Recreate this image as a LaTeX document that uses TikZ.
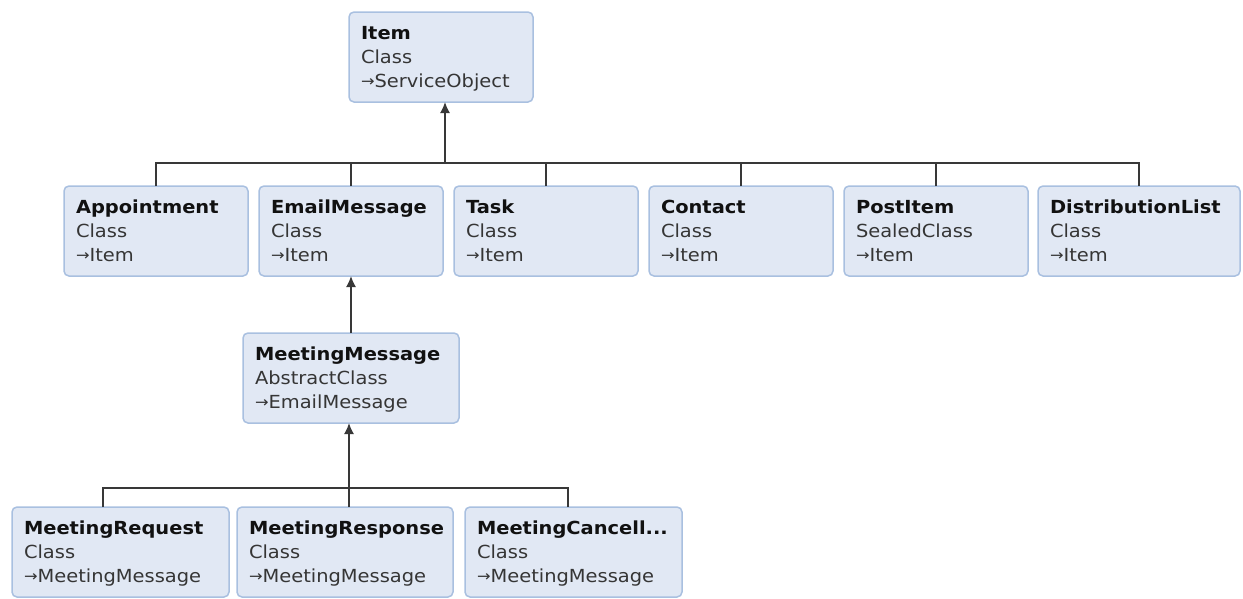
\documentclass[tikz,border=0pt]{standalone}
\usepackage{fontspec}
\setmainfont{DejaVu Sans}[FakeStretch=1.08]
\usetikzlibrary{arrows.meta}

\definecolor{boxfill}{HTML}{E1E8F4}
\definecolor{boxline}{HTML}{A9C0E0}
\definecolor{nametext}{HTML}{111111}
\definecolor{subtext}{HTML}{353535}
\definecolor{wire}{HTML}{383838}

% one line of a class box: fixed height and depth so every box stacks alike
\newcommand\lnstrut{\rule[-4pt]{0pt}{20pt}}
\newcommand\inh{{\fontsize{15}{15}\selectfont\raisebox{1pt}{→}}}
\newcommand\clsbody[3]{\lnstrut\textcolor{nametext}{\textbf{#1}}\\
  \lnstrut\textcolor{subtext}{#2}\\
  \lnstrut\textcolor{subtext}{\inh#3}}

\tikzset{
  cls/.style={draw=boxline, fill=boxfill, line width=1.5pt,
    rounded corners=5pt, anchor=north west, outer sep=0pt,
    inner xsep=12pt, inner ysep=0pt, minimum height=90pt,
    align=left, text width=#1,
    font=\fontsize{18}{24}\selectfont},
  wireline/.style={draw=wire, line width=1.6pt},
  inherit/.style={wireline, -{Latex[length=11pt,width=10pt]}},
}

\begin{document}
\begin{tikzpicture}[x=1pt,y=-1pt]
  \useasboundingbox (0,0) rectangle (1243,598);

  % root
  \node[cls=160pt] (item) at (349,12) {\clsbody{Item}{Class}{ServiceObject}};

  % direct subclasses of Item
  \node[cls=160pt] (appt)    at (64,186)   {\clsbody{Appointment}{Class}{Item}};
  \node[cls=160pt] (email)   at (259,186)  {\clsbody{EmailMessage}{Class}{Item}};
  \node[cls=160pt] (task)    at (454,186)  {\clsbody{Task}{Class}{Item}};
  \node[cls=160pt] (contact) at (649,186)  {\clsbody{Contact}{Class}{Item}};
  \node[cls=160pt] (post)    at (844,186)  {\clsbody{PostItem}{SealedClass}{Item}};
  \node[cls=178pt] (dist)    at (1038,186) {\clsbody{DistributionList}{Class}{Item}};

  % meeting messages
  \node[cls=192pt] (mmsg) at (243,333) {\clsbody{MeetingMessage}{AbstractClass}{EmailMessage}};
  \node[cls=193pt] (req)  at (12,507)  {\clsbody{MeetingRequest}{Class}{MeetingMessage}};
  \node[cls=192pt] (resp) at (237,507) {\clsbody{MeetingResponse}{Class}{MeetingMessage}};
  \node[cls=193pt] (canc) at (465,507) {\clsbody{MeetingCancell...}{Class}{MeetingMessage}};

  % bus under Item
  \coordinate (topbus) at (445,163);
  \draw[wireline] (appt.north) |- (topbus);
  \draw[wireline] (email.north) |- (topbus);
  \draw[wireline] (task.north) |- (topbus);
  \draw[wireline] (contact.north) |- (topbus);
  \draw[wireline] (post.north) |- (topbus);
  \draw[wireline] (dist.north) |- (topbus);
  \draw[inherit] (topbus) -- (topbus |- item.south);

  % MeetingMessage derives from EmailMessage
  \draw[inherit] (mmsg.north) -- (email.south);

  % bus under MeetingMessage
  \coordinate (lowbus) at (349,488);
  \coordinate (reqdrop) at (103,488);
  \coordinate (cancdrop) at (568,488);
  \draw[wireline] (reqdrop |- req.north) -- (reqdrop) -- (cancdrop) -- (cancdrop |- canc.north);
  \draw[inherit] (lowbus |- resp.north) -- (lowbus |- mmsg.south);
\end{tikzpicture}
\end{document}
